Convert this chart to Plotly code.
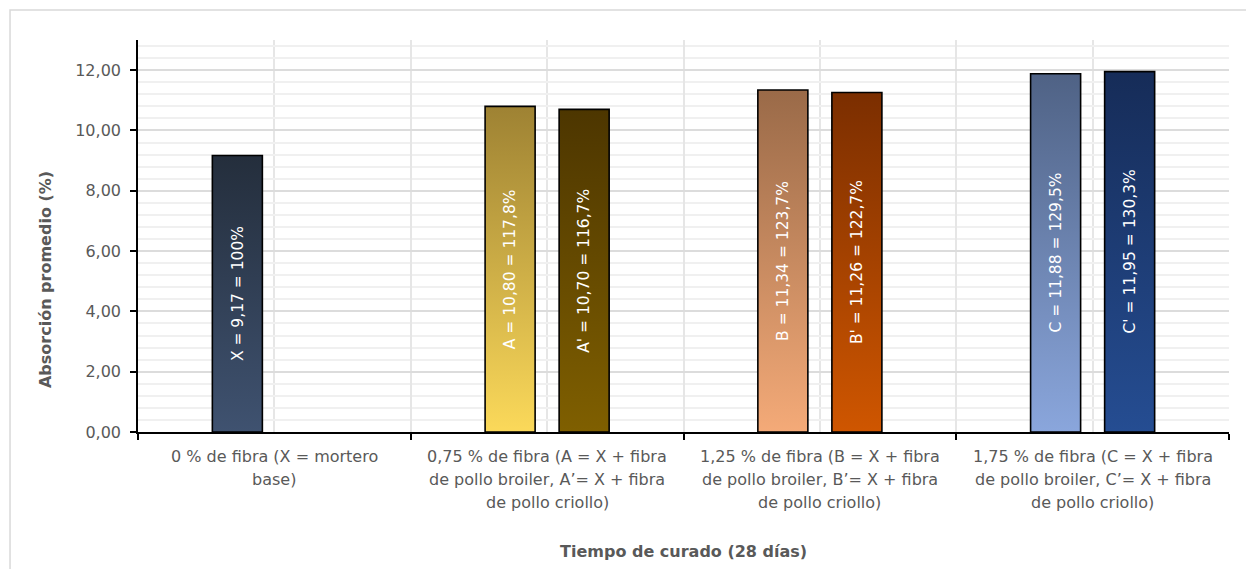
import plotly.graph_objects as go

# Categorías del eje X (porcentaje de fibra), una línea por renglón
categorias = [
    ["0 % de fibra (X = mortero", "base)"],
    ["0,75 % de fibra (A = X + fibra", "de pollo broiler, A’= X + fibra", "de pollo criollo)"],
    ["1,25 % de fibra (B = X + fibra", "de pollo broiler, B’= X + fibra", "de pollo criollo)"],
    ["1,75 % de fibra (C = X + fibra", "de pollo broiler, C’= X + fibra", "de pollo criollo)"],
]

# Serie 1: mortero base y fibra de pollo broiler
serie_broiler = [9.17, 10.80, 11.34, 11.88]
etiquetas_broiler = [
    "X = 9,17 = 100%",
    "A = 10,80 = 117,8%",
    "B = 11,34 = 123,7%",
    "C = 11,88 = 129,5%",
]

# Serie 2: fibra de pollo criollo (sin valor en 0 %)
serie_criollo = [None, 10.70, 11.26, 11.95]
etiquetas_criollo = [
    None,
    "A' = 10,70 = 116,7%",
    "B' = 11,26 = 122,7%",
    "C' = 11,95 = 130,3%",
]

# Degradados (inferior, superior) por barra
colores_broiler = [
    ("#3f5270", "#242e3c"),
    ("#fbd95a", "#9e8233"),
    ("#f4aa78", "#9a6a48"),
    ("#8aa6dc", "#4f6285"),
]
colores_criollo = [
    None,
    ("#7f5f00", "#4d3600"),
    ("#cf5600", "#7b2e00"),
    ("#254d92", "#162c58"),
]

FUENTE = "DejaVu Sans"
GRIS = "#595959"
DESPL = 0.1357   # desplazamiento de cada serie dentro del grupo
MEDIO = 0.0917   # media anchura de barra

fig = go.Figure()
anotaciones = []


def barra(xc, valor, colores, texto):
    x0, x1 = xc - MEDIO, xc + MEDIO
    fig.add_trace(go.Scatter(
        x=[x0, x0, x1, x1, x0],
        y=[0, valor, valor, 0, 0],
        mode="lines",
        fill="toself",
        fillgradient=dict(type="vertical",
                          colorscale=[[0, colores[0]], [1, colores[1]]]),
        line=dict(color="#000000", width=1.6),
        hoverinfo="skip",
        showlegend=False,
    ))
    anotaciones.append(dict(
        x=xc, y=valor / 2, xref="x", yref="y", text=texto,
        textangle=-90, showarrow=False,
        xanchor="center", yanchor="middle",
        font=dict(family=FUENTE, size=15.5, color="#ffffff"),
    ))


for i, (v, c, t) in enumerate(zip(serie_broiler, colores_broiler, etiquetas_broiler)):
    barra(i - DESPL, v, c, t)
for i, (v, c, t) in enumerate(zip(serie_criollo, colores_criollo, etiquetas_criollo)):
    if v is not None:
        barra(i + DESPL, v, c, t)

# Etiquetas de categoría bajo el eje
for i, lineas in enumerate(categorias):
    for j, linea in enumerate(lineas):
        anotaciones.append(dict(
            x=i, y=0, xref="x", yref="y",
            xanchor="center", yanchor="middle", yshift=-24 - 23 * j,
            text=linea, showarrow=False,
            font=dict(family=FUENTE, size=16, color=GRIS),
        ))

# Títulos de los ejes
anotaciones.append(dict(
    x=0.5, y=-0.3036, xref="paper", yref="paper",
    xanchor="center", yanchor="middle",
    text="<b>Tiempo de curado (28 días)</b>", showarrow=False,
    font=dict(family=FUENTE, size=16, color=GRIS),
))
anotaciones.append(dict(
    x=-0.0853, y=0.39, xref="paper", yref="paper",
    xanchor="center", yanchor="middle",
    text="<b>Absorción promedio (%)</b>", showarrow=False, textangle=-90,
    font=dict(family=FUENTE, size=16, color=GRIS),
))

limites = [-0.5, 0.5, 1.5, 2.5, 3.5]
centros = list(range(len(categorias)))

fig.update_layout(
    width=1246, height=569,
    margin=dict(l=138, r=17, t=40, b=137),
    paper_bgcolor="#ffffff", plot_bgcolor="#ffffff",
    separators=",.",
    showlegend=False,
    annotations=anotaciones,
    shapes=[dict(
        type="rect", xref="paper", yref="paper",
        x0=-0.1173, x1=1.2, y0=-0.6, y1=1.0765,
        line=dict(color="#d9d9d9", width=1.5), layer="below",
    )],
    xaxis=dict(
        range=[-0.5, 3.5],
        tickmode="array", tickvals=limites, showticklabels=False,
        ticks="outside", ticklen=6, tickcolor="#000000", tickwidth=1.5,
        showline=True, linecolor="#000000", linewidth=1.6,
        showgrid=True, gridcolor="#e6e6e6", gridwidth=1.5,
        zeroline=False,
        minor=dict(tickmode="array", tickvals=centros, showgrid=True,
                   gridcolor="#e6e6e6", gridwidth=1.5, ticklen=0),
    ),
    yaxis=dict(
        range=[0, 13],
        tickmode="linear", tick0=0, dtick=2, tickformat=".2f",
        ticks="outside", ticklen=6, tickcolor="#000000", tickwidth=1.5,
        ticklabelstandoff=6,
        tickfont=dict(family=FUENTE, size=16, color=GRIS),
        showline=True, linecolor="#000000", linewidth=1.6,
        showgrid=True, gridcolor="#dcdcdc", gridwidth=1.5,
        zeroline=False,
        minor=dict(dtick=0.4, tick0=0, showgrid=True,
                   gridcolor="#f0f0f0", gridwidth=1.5, ticklen=0),
    ),
)

fig.write_html("out.html")
